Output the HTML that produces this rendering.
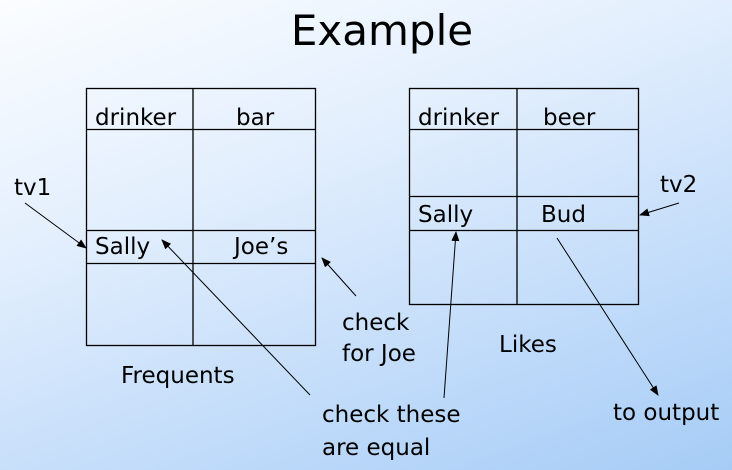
<!DOCTYPE html>
<html><head><style>
html,body{margin:0;padding:0;}
body{width:732px;height:470px;overflow:hidden;background:linear-gradient(160deg,#fbfdff 0%,#e3effd 35%,#c2dcfa 70%,#a6ccf6 100%);}
svg{display:block;}
svg text{font-family:"DejaVu Sans","Liberation Sans",sans-serif;fill:#000;}
</style></head><body>
<svg width="732" height="470" viewBox="0 0 732 470" xmlns="http://www.w3.org/2000/svg">
<defs><marker id="a" markerWidth="10" markerHeight="8" refX="9" refY="4" orient="auto" markerUnits="userSpaceOnUse"><path d="M0,0 L10,4 L0,8 z" fill="#000"/></marker></defs>
<text x="382" y="45" font-size="42" text-anchor="middle">Example</text>
<g stroke="#000" stroke-width="1.3" fill="none">
<rect x="86.5" y="88.5" width="229" height="257"/>
<line x1="193" y1="88" x2="193" y2="345"/>
<line x1="86" y1="129.5" x2="315" y2="129.5"/>
<line x1="86" y1="230.5" x2="315" y2="230.5"/>
<line x1="86" y1="263.5" x2="315" y2="263.5"/>
<rect x="409.5" y="88.5" width="229" height="216"/>
<line x1="517" y1="88" x2="517" y2="304"/>
<line x1="409" y1="129.5" x2="638" y2="129.5"/>
<line x1="409" y1="196.5" x2="638" y2="196.5"/>
<line x1="409" y1="230.5" x2="638" y2="230.5"/>
</g>
<g stroke="#000" stroke-width="1" marker-end="url(#a)">
<line x1="25" y1="203" x2="86" y2="248"/>
<line x1="310" y1="395" x2="162" y2="240"/>
<line x1="356" y1="296" x2="322" y2="258"/>
<line x1="679" y1="203" x2="640" y2="215"/>
<line x1="444" y1="398" x2="456" y2="232"/>
<line x1="557" y1="238" x2="658" y2="395"/>
</g>
<g font-size="23">
<text x="95" y="125">drinker</text>
<text x="236" y="125">bar</text>
<text x="95" y="254">Sally</text>
<text x="234" y="254">Joe’s</text>
<text x="418" y="125">drinker</text>
<text x="543" y="125">beer</text>
<text x="418" y="222">Sally</text>
<text x="541" y="222">Bud</text>
<text x="14" y="195">tv1</text>
<text x="660" y="192">tv2</text>
<text x="121" y="383">Frequents</text>
<text x="499" y="352">Likes</text>
<text x="342" y="330">check</text>
<text x="342" y="361">for Joe</text>
<text x="322" y="422">check these</text>
<text x="322" y="455">are equal</text>
<text x="613" y="420">to output</text>
</g>
</svg>
</body></html>
